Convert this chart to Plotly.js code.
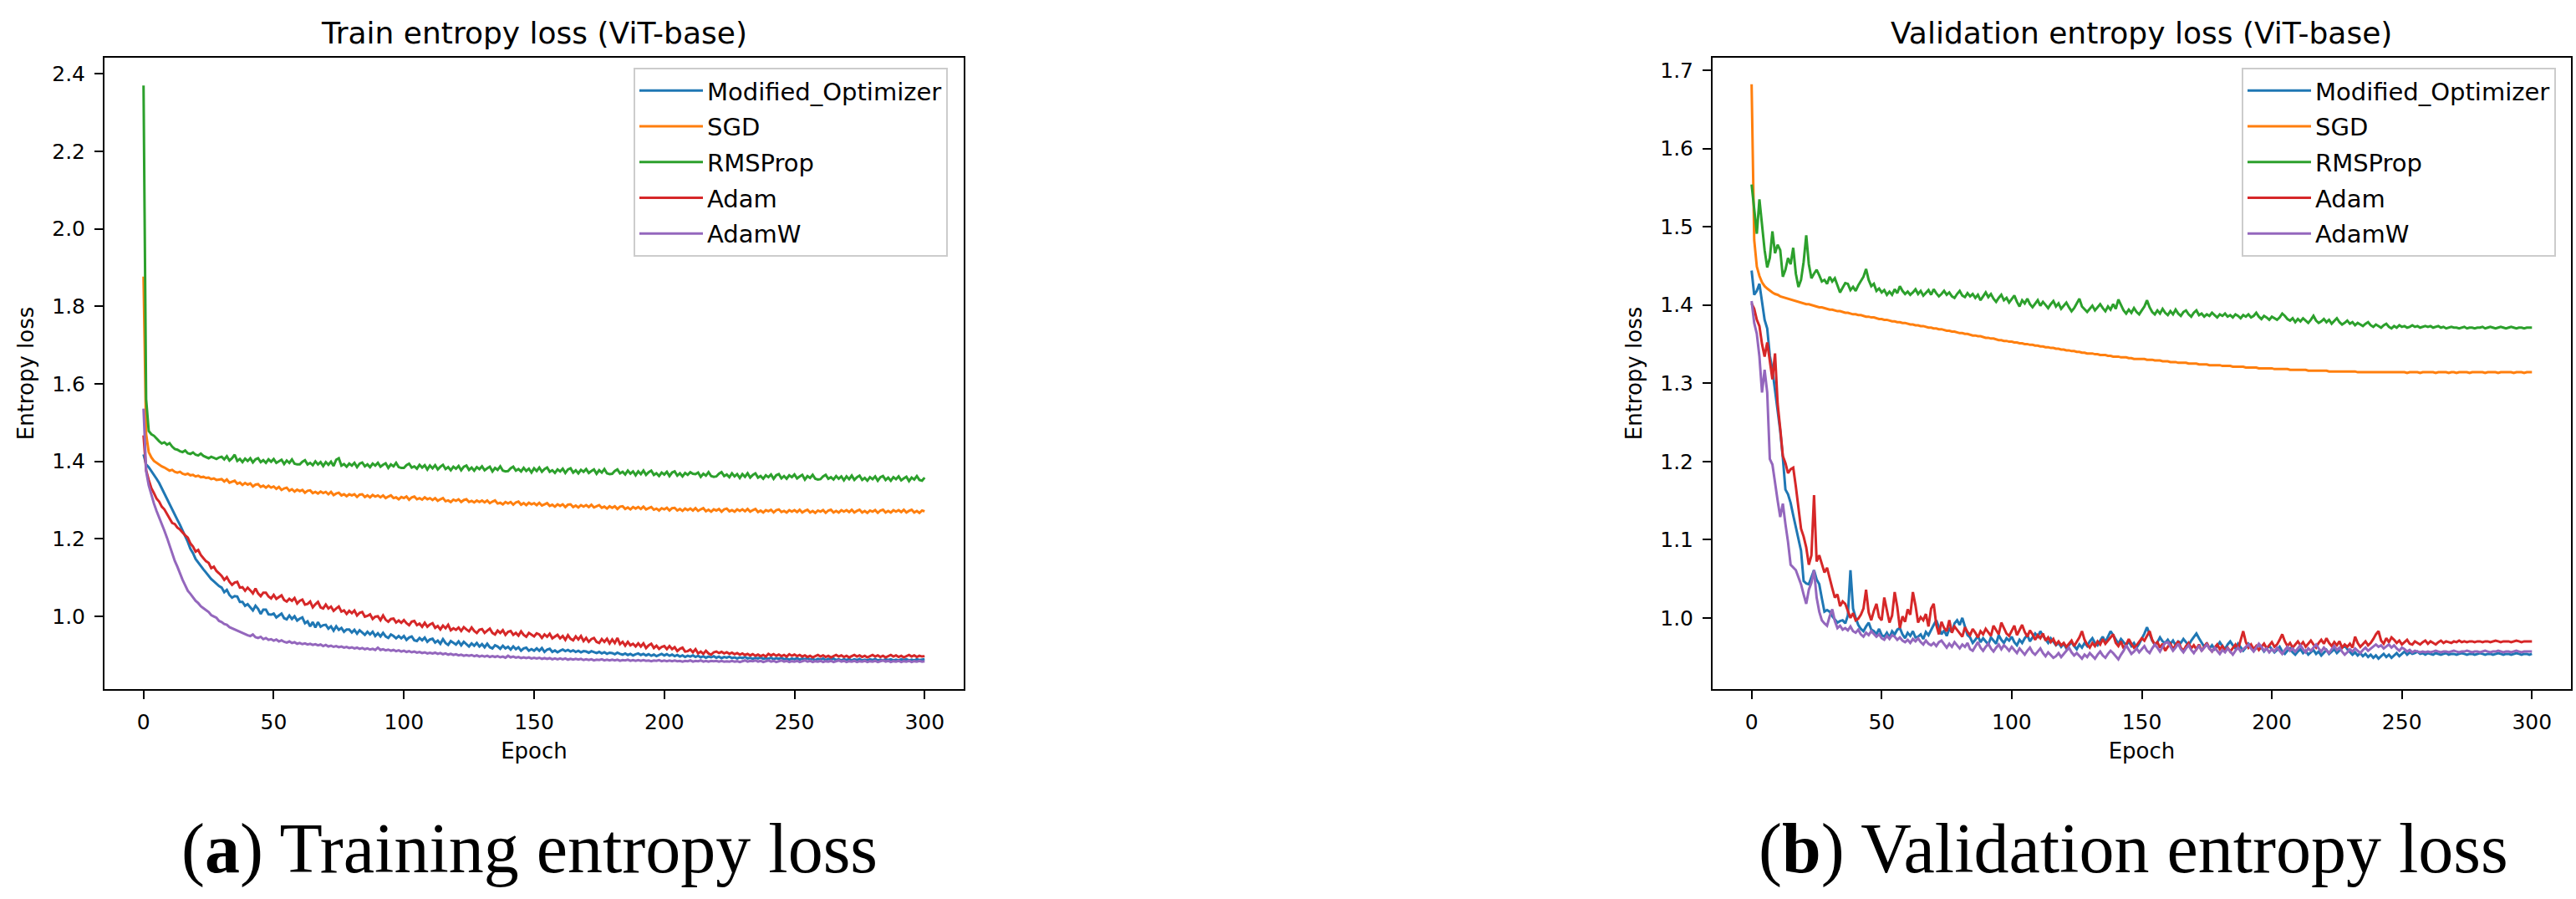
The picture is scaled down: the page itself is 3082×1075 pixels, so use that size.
<!DOCTYPE html>
<html>
<head>
<meta charset="utf-8">
<script src="https://cdn.plot.ly/plotly-3.0.1.min.js"></script>
<style>html,body{margin:0;padding:0;background:#fff;}#chart{width:3082px;height:1075px;}</style>
</head>
<body>
<div id="chart"></div>
<script>
const seriesNames = ['Modified_Optimizer', 'SGD', 'RMSProp', 'Adam', 'AdamW'];
const seriesColors = ['#1f77b4', '#ff7f0e', '#2ca02c', '#d62728', '#9467bd'];
const xTickVals = [0, 50, 100, 150, 200, 250, 300];
const trainYTicks = [1.0, 1.2, 1.4, 1.6, 1.8, 2.0, 2.2, 2.4];
const valYTicks = [1.0, 1.1, 1.2, 1.3, 1.4, 1.5, 1.6, 1.7];

// ---------- Train entropy loss (epochs 0..300) ----------
const trainModified = [
1.418,1.392,1.385,1.374,1.366,1.355,1.344,1.330,1.318,1.305,
1.288,1.276,1.262,1.249,1.236,1.222,1.205,1.192,1.174,1.163,
1.148,1.139,1.128,1.121,1.113,1.104,1.096,1.090,1.083,1.078,
1.074,1.062,1.068,1.055,1.048,1.052,1.051,1.037,1.037,1.027,
1.031,1.023,1.015,1.027,1.019,1.006,1.017,1.017,1.005,1.004,
1.007,0.997,1.003,1.007,0.995,0.992,1.002,0.993,1.000,0.989,
0.994,0.997,0.982,0.987,0.974,0.985,0.971,0.985,0.973,0.977,
0.978,0.968,0.974,0.963,0.974,0.965,0.970,0.960,0.966,0.966,
0.958,0.965,0.955,0.964,0.958,0.952,0.960,0.953,0.960,0.949,
0.956,0.948,0.957,0.948,0.944,0.953,0.949,0.943,0.949,0.943,
0.949,0.939,0.945,0.948,0.938,0.936,0.944,0.938,0.945,0.934,
0.940,0.942,0.932,0.937,0.929,0.941,0.931,0.926,0.936,0.932,
0.927,0.935,0.925,0.934,0.929,0.922,0.930,0.924,0.931,0.922,
0.928,0.920,0.929,0.920,0.917,0.925,0.922,0.916,0.924,0.917,
0.921,0.914,0.922,0.915,0.920,0.911,0.917,0.919,0.911,0.915,
0.911,0.917,0.911,0.918,0.908,0.914,0.916,0.908,0.912,0.907,
0.911,0.914,0.910,0.913,0.909,0.912,0.908,0.911,0.907,0.910,
0.909,0.906,0.910,0.907,0.905,0.908,0.904,0.907,0.903,0.906,
0.905,0.902,0.906,0.903,0.901,0.904,0.900,0.903,0.899,0.902,
0.904,0.900,0.903,0.899,0.902,0.898,0.901,0.897,0.900,0.903,
0.899,0.902,0.898,0.901,0.897,0.900,0.896,0.899,0.895,0.898,
0.896,0.899,0.895,0.898,0.894,0.897,0.893,0.896,0.894,0.897,
0.893,0.896,0.892,0.895,0.893,0.896,0.892,0.894,0.891,0.894,
0.892,0.895,0.891,0.893,0.890,0.893,0.891,0.894,0.890,0.892,
0.890,0.893,0.889,0.892,0.890,0.893,0.889,0.891,0.888,0.891,
0.889,0.892,0.888,0.891,0.889,0.892,0.888,0.890,0.887,0.890,
0.888,0.891,0.887,0.890,0.888,0.891,0.887,0.889,0.886,0.889,
0.887,0.890,0.886,0.889,0.887,0.890,0.886,0.888,0.886,0.889,
0.887,0.890,0.886,0.888,0.886,0.889,0.887,0.889,0.886,0.888,
0.886,0.889,0.887,0.889,0.886,0.888,0.886,0.889,0.887,0.888,
0.889];
const trainSGD = [
1.877,1.470,1.424,1.410,1.401,1.396,1.392,1.387,1.384,1.380,
1.376,1.378,1.373,1.371,1.373,1.368,1.366,1.368,1.364,1.365,
1.361,1.363,1.359,1.360,1.357,1.358,1.354,1.356,1.352,1.353,
1.354,1.348,1.353,1.345,1.348,1.350,1.342,1.345,1.339,1.344,
1.340,1.343,1.335,1.340,1.341,1.334,1.337,1.332,1.337,1.332,
1.335,1.329,1.334,1.326,1.330,1.332,1.324,1.328,1.322,1.327,
1.323,1.326,1.319,1.324,1.325,1.318,1.321,1.317,1.322,1.318,
1.321,1.315,1.321,1.313,1.317,1.319,1.312,1.315,1.310,1.315,
1.312,1.315,1.308,1.314,1.315,1.308,1.312,1.307,1.313,1.309,
1.312,1.307,1.312,1.305,1.309,1.312,1.305,1.307,1.302,1.308,
1.305,1.309,1.301,1.307,1.309,1.302,1.305,1.301,1.307,1.302,
1.305,1.300,1.305,1.298,1.302,1.305,1.297,1.299,1.295,1.301,
1.298,1.302,1.295,1.300,1.302,1.295,1.298,1.294,1.299,1.295,
1.299,1.294,1.299,1.292,1.296,1.299,1.291,1.293,1.289,1.295,
1.291,1.295,1.288,1.294,1.296,1.288,1.292,1.287,1.293,1.289,
1.292,1.287,1.293,1.286,1.289,1.292,1.285,1.288,1.283,1.289,
1.285,1.289,1.282,1.288,1.289,1.282,1.286,1.281,1.287,1.283,
1.287,1.282,1.288,1.281,1.284,1.287,1.280,1.283,1.278,1.284,
1.280,1.284,1.277,1.283,1.284,1.277,1.281,1.276,1.282,1.278,
1.282,1.277,1.283,1.276,1.279,1.282,1.275,1.278,1.273,1.279,
1.276,1.280,1.273,1.279,1.280,1.273,1.277,1.272,1.278,1.274,
1.278,1.273,1.279,1.272,1.276,1.279,1.271,1.275,1.270,1.276,
1.273,1.277,1.270,1.276,1.278,1.271,1.274,1.270,1.276,1.272,
1.276,1.271,1.277,1.270,1.274,1.277,1.269,1.273,1.268,1.274,
1.271,1.275,1.268,1.274,1.276,1.269,1.272,1.268,1.274,1.270,
1.274,1.269,1.275,1.268,1.272,1.275,1.268,1.272,1.267,1.273,
1.270,1.274,1.267,1.273,1.275,1.268,1.272,1.268,1.274,1.270,
1.274,1.269,1.275,1.268,1.272,1.275,1.268,1.272,1.267,1.273,
1.270,1.274,1.267,1.273,1.275,1.268,1.272,1.268,1.274,1.270,
1.274,1.269,1.275,1.268,1.272,1.275,1.268,1.272,1.267,1.273,
1.271];
const trainRMSProp = [
2.370,1.560,1.478,1.470,1.466,1.458,1.452,1.446,1.449,1.443,
1.447,1.438,1.432,1.430,1.426,1.424,1.428,1.421,1.419,1.423,
1.417,1.415,1.420,1.414,1.411,1.408,1.412,1.409,1.406,1.410,
1.412,1.405,1.413,1.402,1.408,1.417,1.401,1.406,1.398,1.407,
1.401,1.408,1.397,1.405,1.408,1.398,1.403,1.396,1.405,1.399,
1.406,1.396,1.401,1.404,1.393,1.402,1.396,1.405,1.394,1.392,
1.392,1.399,1.403,1.392,1.396,1.390,1.400,1.392,1.398,1.388,
1.398,1.391,1.399,1.388,1.404,1.408,1.389,1.393,1.386,1.394,
1.389,1.396,1.385,1.394,1.397,1.387,1.392,1.385,1.394,1.389,
1.396,1.386,1.391,1.395,1.383,1.392,1.387,1.396,1.385,1.383,
1.383,1.390,1.394,1.384,1.387,1.381,1.391,1.384,1.390,1.379,
1.389,1.382,1.390,1.379,1.386,1.391,1.380,1.385,1.377,1.386,
1.381,1.388,1.377,1.386,1.389,1.378,1.384,1.376,1.385,1.380,
1.387,1.377,1.382,1.386,1.374,1.383,1.378,1.387,1.376,1.374,
1.375,1.382,1.386,1.376,1.380,1.374,1.383,1.375,1.381,1.371,
1.382,1.375,1.384,1.373,1.380,1.384,1.373,1.377,1.370,1.379,
1.374,1.381,1.370,1.379,1.382,1.371,1.377,1.369,1.378,1.373,
1.380,1.370,1.375,1.379,1.368,1.377,1.371,1.380,1.369,1.367,
1.368,1.375,1.379,1.369,1.373,1.366,1.376,1.368,1.374,1.364,
1.374,1.367,1.376,1.365,1.372,1.376,1.365,1.369,1.362,1.371,
1.366,1.373,1.362,1.371,1.374,1.363,1.369,1.361,1.370,1.365,
1.372,1.368,1.367,1.371,1.360,1.368,1.363,1.372,1.362,1.360,
1.361,1.368,1.372,1.362,1.366,1.359,1.369,1.361,1.367,1.357,
1.367,1.360,1.369,1.358,1.365,1.369,1.358,1.362,1.355,1.364,
1.359,1.366,1.355,1.364,1.367,1.356,1.362,1.355,1.364,1.359,
1.366,1.356,1.361,1.365,1.353,1.362,1.357,1.365,1.355,1.353,
1.354,1.361,1.365,1.355,1.359,1.353,1.362,1.355,1.361,1.351,
1.361,1.354,1.363,1.352,1.359,1.363,1.352,1.357,1.350,1.359,
1.354,1.361,1.350,1.359,1.362,1.352,1.358,1.350,1.359,1.354,
1.361,1.351,1.356,1.360,1.349,1.358,1.353,1.362,1.352,1.350,
1.358];
const trainAdam = [
1.467,1.377,1.352,1.331,1.318,1.304,1.296,1.283,1.276,1.264,
1.255,1.241,1.238,1.229,1.224,1.216,1.209,1.203,1.188,1.180,
1.167,1.171,1.158,1.150,1.142,1.138,1.124,1.128,1.117,1.111,
1.104,1.094,1.101,1.089,1.081,1.087,1.089,1.074,1.075,1.066,
1.074,1.067,1.059,1.072,1.059,1.052,1.061,1.061,1.051,1.046,
1.055,1.045,1.050,1.054,1.042,1.038,1.045,1.040,1.047,1.033,
1.040,1.043,1.030,1.032,1.038,1.023,1.031,1.037,1.023,1.020,
1.030,1.020,1.025,1.014,1.020,1.025,1.012,1.015,1.006,1.014,
1.008,1.015,1.002,1.009,1.011,0.999,1.001,1.005,0.993,0.999,
1.000,0.990,1.002,0.991,0.986,0.993,0.994,0.984,0.989,0.983,
0.990,0.982,0.977,0.986,0.988,0.977,0.981,0.973,0.983,0.973,
0.979,0.982,0.970,0.975,0.966,0.976,0.969,0.978,0.964,0.969,
0.965,0.971,0.962,0.972,0.966,0.961,0.971,0.962,0.957,0.965,
0.967,0.957,0.963,0.968,0.957,0.953,0.963,0.957,0.964,0.952,
0.960,0.962,0.952,0.957,0.950,0.961,0.952,0.947,0.957,0.953,
0.948,0.956,0.953,0.944,0.953,0.947,0.955,0.943,0.948,0.952,
0.943,0.949,0.939,0.951,0.942,0.938,0.948,0.940,0.949,0.936,
0.944,0.934,0.941,0.944,0.934,0.931,0.941,0.934,0.942,0.930,
0.940,0.931,0.944,0.928,0.934,0.924,0.934,0.925,0.929,0.922,
0.930,0.922,0.930,0.918,0.925,0.929,0.918,0.924,0.916,0.921,
0.923,0.915,0.923,0.915,0.920,0.910,0.916,0.919,0.909,0.910,
0.914,0.907,0.915,0.904,0.909,0.903,0.911,0.904,0.901,0.907,
0.909,0.905,0.908,0.904,0.907,0.903,0.906,0.902,0.905,0.901,
0.904,0.900,0.903,0.899,0.902,0.898,0.901,0.897,0.900,0.896,
0.903,0.899,0.902,0.898,0.901,0.897,0.900,0.896,0.902,0.898,
0.901,0.897,0.900,0.896,0.899,0.895,0.898,0.894,0.897,0.900,
0.896,0.899,0.895,0.898,0.894,0.897,0.900,0.896,0.899,0.895,
0.898,0.894,0.897,0.900,0.896,0.899,0.895,0.898,0.894,0.897,
0.900,0.896,0.899,0.895,0.898,0.894,0.897,0.900,0.896,0.899,
0.895,0.898,0.894,0.897,0.900,0.896,0.899,0.895,0.898,0.896,
0.897];
const trainAdamW = [
1.536,1.374,1.338,1.312,1.291,1.272,1.256,1.240,1.221,1.203,
1.183,1.162,1.143,1.128,1.110,1.094,1.080,1.066,1.058,1.049,
1.040,1.034,1.026,1.021,1.016,1.011,1.003,0.999,0.996,0.988,
0.985,0.980,0.978,0.972,0.969,0.966,0.963,0.959,0.957,0.954,
0.951,0.949,0.953,0.946,0.944,0.947,0.941,0.944,0.939,0.941,
0.937,0.940,0.935,0.938,0.934,0.932,0.935,0.931,0.933,0.929,
0.931,0.928,0.930,0.927,0.929,0.926,0.928,0.925,0.927,0.923,
0.926,0.922,0.924,0.921,0.923,0.920,0.922,0.919,0.921,0.918,
0.920,0.917,0.919,0.916,0.918,0.915,0.917,0.914,0.916,0.913,
0.919,0.913,0.915,0.912,0.914,0.911,0.913,0.910,0.912,0.909,
0.911,0.908,0.910,0.907,0.909,0.906,0.908,0.905,0.907,0.904,
0.906,0.904,0.906,0.903,0.905,0.902,0.904,0.901,0.903,0.900,
0.902,0.899,0.901,0.898,0.900,0.898,0.900,0.897,0.899,0.896,
0.898,0.896,0.898,0.895,0.897,0.895,0.897,0.894,0.896,0.893,
0.898,0.894,0.896,0.893,0.895,0.892,0.894,0.892,0.894,0.891,
0.893,0.891,0.893,0.890,0.892,0.890,0.892,0.889,0.891,0.889,
0.891,0.889,0.891,0.888,0.890,0.888,0.890,0.888,0.890,0.887,
0.889,0.887,0.889,0.886,0.888,0.887,0.889,0.886,0.888,0.886,
0.888,0.886,0.888,0.885,0.887,0.886,0.888,0.885,0.887,0.885,
0.887,0.885,0.887,0.885,0.886,0.884,0.886,0.885,0.887,0.884,
0.886,0.884,0.886,0.884,0.886,0.884,0.885,0.883,0.885,0.884,
0.886,0.883,0.885,0.884,0.886,0.883,0.885,0.883,0.885,0.884,
0.885,0.883,0.885,0.883,0.884,0.883,0.885,0.883,0.884,0.882,
0.884,0.886,0.883,0.885,0.884,0.886,0.883,0.885,0.882,0.884,
0.886,0.883,0.885,0.882,0.884,0.886,0.883,0.885,0.882,0.884,
0.883,0.885,0.882,0.884,0.886,0.883,0.885,0.882,0.884,0.883,
0.885,0.882,0.884,0.883,0.885,0.882,0.884,0.886,0.883,0.885,
0.882,0.884,0.883,0.885,0.882,0.884,0.883,0.885,0.882,0.884,
0.883,0.885,0.882,0.884,0.886,0.883,0.885,0.882,0.884,0.883,
0.885,0.882,0.884,0.883,0.885,0.882,0.884,0.883,0.885,0.883,
0.884];

// ---------- Validation entropy loss (epochs 0..300) ----------
const valModified = [
1.444,1.413,1.418,1.427,1.404,1.381,1.370,1.335,1.317,1.290,
1.262,1.239,1.205,1.164,1.158,1.147,1.131,1.115,1.102,1.086,
1.047,1.044,1.043,1.052,1.061,1.049,1.043,1.025,1.008,1.010,
1.008,1.002,0.998,0.994,0.996,0.997,0.993,1.003,1.061,1.012,
1.000,0.991,0.986,0.983,0.989,0.994,0.985,0.983,0.979,0.986,
0.978,0.976,0.981,0.975,0.983,0.979,0.985,0.987,0.979,0.974,
0.981,0.977,0.983,0.975,0.976,0.979,0.973,0.982,0.978,0.985,
0.991,0.997,0.988,0.979,0.984,0.977,0.986,0.982,0.993,0.997,
0.991,1.000,0.989,0.978,0.975,0.968,0.972,0.977,0.969,0.974,
0.970,0.966,0.975,0.971,0.967,0.978,0.972,0.968,0.974,0.971,
0.976,0.969,0.965,0.972,0.968,0.974,0.978,0.970,0.975,0.980,
0.976,0.983,0.977,0.972,0.968,0.974,0.970,0.965,0.968,0.963,
0.967,0.961,0.965,0.969,0.964,0.960,0.966,0.962,0.968,0.964,
0.970,0.974,0.968,0.965,0.971,0.976,0.969,0.977,0.983,0.978,
0.972,0.967,0.973,0.969,0.965,0.970,0.964,0.968,0.962,0.967,
0.973,0.980,0.988,0.979,0.971,0.966,0.969,0.975,0.970,0.968,
0.972,0.967,0.971,0.965,0.970,0.968,0.973,0.969,0.965,0.971,
0.976,0.980,0.974,0.968,0.963,0.967,0.961,0.965,0.960,0.964,
0.969,0.964,0.960,0.966,0.970,0.965,0.961,0.967,0.963,0.958,
0.962,0.967,0.963,0.958,0.961,0.966,0.962,0.957,0.961,0.964,
0.960,0.956,0.959,0.963,0.957,0.954,0.958,0.961,0.956,0.953,
0.957,0.960,0.955,0.958,0.953,0.956,0.959,0.954,0.957,0.952,
0.956,0.959,0.954,0.957,0.960,0.955,0.958,0.962,0.965,0.960,
0.957,0.953,0.956,0.952,0.955,0.951,0.954,0.950,0.953,0.949,
0.952,0.948,0.951,0.954,0.950,0.953,0.949,0.952,0.955,0.951,
0.954,0.957,0.953,0.956,0.954,0.955,0.957,0.954,0.955,0.953,
0.955,0.954,0.953,0.955,0.954,0.953,0.954,0.955,0.953,0.954,
0.954,0.953,0.954,0.955,0.954,0.953,0.954,0.954,0.953,0.954,
0.955,0.954,0.953,0.954,0.954,0.953,0.954,0.955,0.954,0.953,
0.954,0.954,0.953,0.954,0.955,0.954,0.953,0.954,0.954,0.953,
0.954];
const valSGD = [
1.682,1.483,1.449,1.437,1.429,1.424,1.421,1.418,1.416,1.414,
1.413,1.411,1.410,1.409,1.408,1.407,1.406,1.405,1.404,1.403,
1.402,1.401,1.401,1.400,1.399,1.398,1.397,1.397,1.396,1.395,
1.394,1.394,1.393,1.392,1.392,1.391,1.390,1.390,1.389,1.388,
1.388,1.387,1.387,1.386,1.385,1.385,1.384,1.384,1.383,1.382,
1.382,1.381,1.381,1.380,1.379,1.379,1.378,1.378,1.377,1.377,
1.376,1.375,1.375,1.374,1.374,1.373,1.373,1.372,1.371,1.371,
1.370,1.370,1.369,1.369,1.368,1.367,1.367,1.366,1.366,1.365,
1.364,1.364,1.363,1.363,1.362,1.361,1.361,1.360,1.360,1.359,
1.358,1.358,1.357,1.357,1.356,1.355,1.355,1.354,1.354,1.353,
1.353,1.352,1.352,1.351,1.351,1.350,1.350,1.349,1.349,1.348,
1.348,1.347,1.347,1.346,1.346,1.345,1.345,1.344,1.344,1.343,
1.343,1.342,1.342,1.341,1.341,1.340,1.340,1.339,1.339,1.338,
1.338,1.338,1.337,1.337,1.336,1.336,1.336,1.335,1.335,1.334,
1.334,1.334,1.333,1.333,1.333,1.332,1.332,1.331,1.331,1.331,
1.331,1.331,1.330,1.330,1.330,1.329,1.329,1.329,1.328,1.328,
1.328,1.327,1.327,1.327,1.326,1.326,1.326,1.326,1.325,1.325,
1.325,1.325,1.324,1.324,1.324,1.324,1.323,1.323,1.323,1.323,
1.323,1.322,1.322,1.322,1.322,1.321,1.321,1.321,1.321,1.321,
1.320,1.320,1.320,1.320,1.320,1.319,1.319,1.319,1.319,1.319,
1.319,1.318,1.318,1.318,1.318,1.318,1.318,1.317,1.317,1.317,
1.317,1.317,1.317,1.317,1.316,1.316,1.316,1.316,1.316,1.316,
1.316,1.316,1.315,1.315,1.315,1.315,1.315,1.315,1.315,1.315,
1.315,1.315,1.315,1.314,1.314,1.314,1.314,1.314,1.314,1.314,
1.314,1.314,1.314,1.314,1.314,1.314,1.314,1.314,1.314,1.314,
1.314,1.314,1.313,1.314,1.314,1.314,1.314,1.313,1.314,1.314,
1.314,1.314,1.314,1.313,1.314,1.314,1.314,1.314,1.313,1.314,
1.314,1.313,1.314,1.314,1.314,1.314,1.313,1.314,1.314,1.314,
1.314,1.314,1.313,1.314,1.314,1.314,1.314,1.313,1.314,1.314,
1.314,1.314,1.314,1.313,1.314,1.314,1.314,1.313,1.314,1.314,
1.314];
const valRMSProp = [
1.554,1.520,1.491,1.535,1.502,1.470,1.448,1.460,1.494,1.466,
1.477,1.470,1.436,1.445,1.460,1.452,1.473,1.440,1.423,1.432,
1.455,1.489,1.452,1.434,1.440,1.445,1.438,1.430,1.432,1.427,
1.436,1.430,1.434,1.424,1.416,1.422,1.428,1.427,1.419,1.423,
1.418,1.425,1.431,1.436,1.446,1.432,1.424,1.427,1.418,1.421,
1.416,1.419,1.413,1.417,1.413,1.420,1.415,1.424,1.418,1.414,
1.417,1.413,1.416,1.420,1.414,1.418,1.412,1.416,1.419,1.413,
1.420,1.415,1.411,1.414,1.418,1.413,1.416,1.411,1.409,1.414,
1.418,1.412,1.410,1.415,1.411,1.414,1.409,1.413,1.406,1.411,
1.416,1.410,1.414,1.408,1.404,1.409,1.413,1.406,1.409,1.403,
1.407,1.412,1.404,1.398,1.406,1.402,1.408,1.401,1.397,1.402,
1.406,1.399,1.404,1.400,1.396,1.401,1.405,1.398,1.402,1.395,
1.399,1.403,1.397,1.392,1.396,1.402,1.408,1.398,1.394,1.391,
1.395,1.399,1.393,1.397,1.401,1.396,1.392,1.398,1.394,1.401,
1.395,1.407,1.399,1.393,1.389,1.394,1.390,1.396,1.391,1.388,
1.393,1.398,1.406,1.397,1.391,1.388,1.393,1.389,1.395,1.390,
1.387,1.392,1.388,1.394,1.389,1.386,1.391,1.393,1.388,1.385,
1.390,1.393,1.387,1.389,1.385,1.388,1.386,1.390,1.387,1.384,
1.388,1.386,1.389,1.385,1.387,1.384,1.388,1.386,1.383,1.387,
1.385,1.388,1.384,1.386,1.390,1.385,1.382,1.386,1.384,1.381,
1.385,1.383,1.381,1.384,1.389,1.386,1.382,1.380,1.383,1.378,
1.382,1.379,1.383,1.380,1.377,1.381,1.386,1.380,1.377,1.379,
1.382,1.378,1.381,1.376,1.379,1.383,1.378,1.375,1.377,1.380,
1.376,1.378,1.374,1.377,1.375,1.373,1.376,1.378,1.374,1.372,
1.375,1.373,1.371,1.374,1.376,1.372,1.370,1.373,1.371,1.374,
1.372,1.373,1.371,1.372,1.374,1.372,1.373,1.371,1.372,1.373,
1.372,1.373,1.371,1.372,1.373,1.371,1.372,1.370,1.371,1.372,
1.371,1.371,1.370,1.371,1.372,1.370,1.371,1.371,1.370,1.371,
1.371,1.372,1.370,1.371,1.372,1.371,1.370,1.371,1.372,1.371,
1.370,1.371,1.372,1.371,1.370,1.371,1.371,1.370,1.371,1.371,
1.371];
const valAdam = [
1.402,1.395,1.381,1.373,1.350,1.334,1.352,1.331,1.305,1.338,
1.274,1.242,1.207,1.198,1.185,1.190,1.192,1.168,1.140,1.114,
1.104,1.090,1.068,1.080,1.157,1.072,1.080,1.070,1.058,1.064,
1.050,1.038,1.026,1.030,1.015,1.021,1.018,1.010,1.000,1.006,
0.997,0.999,1.004,1.012,1.036,1.007,0.997,1.009,1.018,1.001,
0.997,1.026,1.008,0.994,1.003,1.033,1.014,0.987,1.002,0.995,
1.011,1.004,1.033,1.016,0.994,1.001,0.997,1.005,0.989,1.012,
1.018,0.991,0.979,0.995,0.987,0.983,0.997,0.981,0.989,0.985,
0.980,0.976,0.988,0.982,0.978,0.986,0.981,0.975,0.983,0.979,
0.986,0.981,0.977,0.990,0.984,0.979,0.994,0.987,0.980,0.977,
0.983,0.990,0.978,0.985,0.991,0.982,0.976,0.984,0.979,0.972,
0.978,0.974,0.980,0.971,0.975,0.969,0.973,0.966,0.970,0.965,
0.968,0.963,0.967,0.971,0.964,0.969,0.975,0.983,0.972,0.966,
0.962,0.968,0.964,0.970,0.966,0.973,0.967,0.971,0.975,0.979,
0.968,0.964,0.970,0.961,0.966,0.973,0.967,0.962,0.965,0.969,
0.974,0.971,0.977,0.983,0.972,0.966,0.969,0.962,0.967,0.958,
0.963,0.967,0.960,0.965,0.970,0.962,0.958,0.964,0.968,0.961,
0.965,0.960,0.966,0.958,0.963,0.968,0.961,0.957,0.962,0.966,
0.960,0.964,0.958,0.962,0.957,0.961,0.966,0.960,0.972,0.983,
0.969,0.962,0.966,0.960,0.964,0.959,0.963,0.967,0.961,0.965,
0.969,0.963,0.966,0.972,0.979,0.970,0.964,0.968,0.962,0.966,
0.970,0.965,0.969,0.963,0.967,0.971,0.966,0.962,0.968,0.972,
0.967,0.974,0.968,0.964,0.969,0.965,0.970,0.962,0.966,0.963,
0.967,0.962,0.976,0.968,0.963,0.966,0.970,0.965,0.968,0.973,
0.979,0.983,0.971,0.967,0.974,0.969,0.975,0.972,0.968,0.971,
0.966,0.969,0.972,0.967,0.966,0.970,0.968,0.966,0.969,0.971,
0.967,0.970,0.968,0.966,0.969,0.971,0.968,0.970,0.969,0.968,
0.970,0.969,0.971,0.969,0.970,0.969,0.970,0.970,0.969,0.970,
0.970,0.969,0.970,0.970,0.969,0.970,0.971,0.970,0.969,0.970,
0.970,0.970,0.969,0.970,0.971,0.970,0.969,0.970,0.970,0.970,
0.970];
const valAdamW = [
1.405,1.377,1.363,1.334,1.288,1.317,1.288,1.203,1.196,1.170,
1.150,1.129,1.146,1.120,1.097,1.068,1.064,1.061,1.052,1.043,
1.030,1.018,1.036,1.045,1.061,1.026,1.008,0.997,0.993,0.990,
1.002,1.011,0.996,0.987,0.990,0.985,0.987,0.984,0.989,0.983,
0.981,0.985,0.979,0.976,0.981,0.978,0.983,0.980,0.976,0.979,
0.974,0.972,0.977,0.973,0.978,0.976,0.972,0.975,0.971,0.969,
0.972,0.968,0.973,0.970,0.974,0.969,0.966,0.971,0.967,0.965,
0.968,0.964,0.969,0.971,0.966,0.962,0.967,0.963,0.969,0.965,
0.961,0.966,0.963,0.968,0.960,0.958,0.964,0.969,0.962,0.958,
0.963,0.967,0.961,0.957,0.962,0.966,0.960,0.965,0.962,0.958,
0.963,0.959,0.955,0.961,0.957,0.953,0.958,0.962,0.956,0.953,
0.957,0.961,0.955,0.951,0.956,0.952,0.949,0.951,0.955,0.950,
0.954,0.958,0.962,0.956,0.952,0.955,0.951,0.948,0.953,0.950,
0.955,0.951,0.948,0.953,0.957,0.952,0.949,0.954,0.958,0.955,
0.951,0.947,0.953,0.958,0.965,0.959,0.954,0.957,0.961,0.956,
0.960,0.964,0.958,0.955,0.961,0.966,0.962,0.957,0.963,0.968,
0.969,0.963,0.958,0.962,0.967,0.960,0.956,0.961,0.965,0.959,
0.955,0.960,0.964,0.958,0.962,0.966,0.961,0.957,0.962,0.958,
0.954,0.959,0.956,0.961,0.957,0.953,0.958,0.962,0.957,0.960,
0.964,0.966,0.961,0.957,0.962,0.967,0.963,0.958,0.961,0.956,
0.960,0.957,0.962,0.958,0.954,0.959,0.963,0.958,0.961,0.957,
0.961,0.965,0.960,0.956,0.961,0.958,0.962,0.966,0.961,0.957,
0.962,0.958,0.955,0.960,0.964,0.959,0.962,0.957,0.953,0.956,
0.960,0.957,0.961,0.958,0.955,0.959,0.962,0.958,0.961,0.964,
0.966,0.963,0.965,0.961,0.964,0.966,0.962,0.965,0.961,0.958,
0.962,0.960,0.957,0.959,0.956,0.958,0.957,0.956,0.957,0.956,
0.957,0.956,0.957,0.958,0.957,0.956,0.957,0.957,0.956,0.957,
0.958,0.957,0.956,0.957,0.957,0.958,0.957,0.956,0.957,0.957,
0.956,0.957,0.958,0.957,0.956,0.957,0.957,0.958,0.957,0.956,
0.957,0.957,0.956,0.957,0.958,0.957,0.956,0.957,0.957,0.957,
0.957];

const trainSeries = [trainModified, trainSGD, trainRMSProp, trainAdam, trainAdamW];
const valSeries = [valModified, valSGD, valRMSProp, valAdam, valAdamW];

const FONT = 'DejaVu Sans, sans-serif';
const traces = [];
function addTraces(seriesList, xa, ya, legendId, side) {
  seriesList.forEach((vals, i) => {
    traces.push({
      type: 'scatter', mode: 'lines',
      x: vals.map((_, k) => k), y: vals,
      name: seriesNames[i],
      xaxis: xa, yaxis: ya, legend: legendId,
      legendgroup: side + i,
      line: {color: seriesColors[i], width: 3},
      hoverinfo: 'skip'
    });
  });
}
addTraces(trainSeries, 'x', 'y', 'legend', 'a');
addTraces(valSeries, 'x2', 'y2', 'legend2', 'b');

const axisBase = {
  showline: true, mirror: true, linecolor: '#000', linewidth: 2,
  ticks: 'outside', ticklen: 10, tickwidth: 2, tickcolor: '#000',
  showgrid: false, zeroline: false,
  tickfont: {family: FONT, size: 25, color: '#000'}
};
const yDomain = [1 - 824 / 1075, 1 - 69 / 1075];
const legendBase = {
  bgcolor: 'rgba(255,255,255,0.8)', bordercolor: '#cccccc', borderwidth: 2,
  font: {family: FONT, size: 29, color: '#000'},
  xanchor: 'left', yanchor: 'top', tracegroupgap: 2, itemwidth: 76
};

const layout = {
  width: 3082, height: 1075,
  margin: {l: 0, r: 0, t: 0, b: 0},
  paper_bgcolor: '#fff', plot_bgcolor: '#fff',
  showlegend: true,
  xaxis: Object.assign({}, axisBase, {
    domain: [125 / 3082, 1153 / 3082], range: [-15, 315], anchor: 'y',
    tickvals: xTickVals, ticklabelstandoff: 6,
    title: {text: 'Epoch', font: {family: FONT, size: 26, color: '#000'}, standoff: 12}
  }),
  yaxis: Object.assign({}, axisBase, {
    domain: yDomain, range: [0.812, 2.442], anchor: 'x',
    tickvals: trainYTicks, tickformat: '.1f', ticklabelstandoff: 6,
    title: {text: 'Entropy loss', font: {family: FONT, size: 26, color: '#000'}, standoff: 14}
  }),
  xaxis2: Object.assign({}, axisBase, {
    domain: [2049 / 3082, 3076 / 3082], range: [-15, 315], anchor: 'y2',
    tickvals: xTickVals, ticklabelstandoff: 6,
    title: {text: 'Epoch', font: {family: FONT, size: 26, color: '#000'}, standoff: 12}
  }),
  yaxis2: Object.assign({}, axisBase, {
    domain: yDomain, range: [0.909, 1.716], anchor: 'x2',
    tickvals: valYTicks, tickformat: '.1f', ticklabelstandoff: 6,
    title: {text: 'Entropy loss', font: {family: FONT, size: 26, color: '#000'}, standoff: 14}
  }),
  legend: Object.assign({}, legendBase, {x: 758 / 3082, y: 1 - 81 / 1075}),
  legend2: Object.assign({}, legendBase, {x: 2682 / 3082, y: 1 - 81 / 1075}),
  annotations: [
    {text: 'Train entropy loss (ViT-base)', xref: 'paper', yref: 'paper',
     x: 639 / 3082, y: 1 - 39 / 1075, xanchor: 'center', yanchor: 'middle', showarrow: false,
     font: {family: FONT, size: 36, color: '#000'}},
    {text: 'Validation entropy loss (ViT-base)', xref: 'paper', yref: 'paper',
     x: 2562 / 3082, y: 1 - 39 / 1075, xanchor: 'center', yanchor: 'middle', showarrow: false,
     font: {family: FONT, size: 36, color: '#000'}},
    {text: '(<b>a</b>) Training entropy loss', xref: 'paper', yref: 'paper',
     x: 215 / 3082, y: 1 - 1015 / 1075, xanchor: 'left', yanchor: 'middle', showarrow: false,
     font: {family: 'Liberation Serif, serif', size: 84, color: '#000'}},
    {text: '(<b>b</b>) Validation entropy loss', xref: 'paper', yref: 'paper',
     x: 2102 / 3082, y: 1 - 1015 / 1075, xanchor: 'left', yanchor: 'middle', showarrow: false,
     font: {family: 'Liberation Serif, serif', size: 84, color: '#000'}}
  ]
};

const allSeries = trainSeries.concat(valSeries);
const bad = allSeries.map(s => s.length).filter(n => n !== 301);
if (bad.length) {
  layout.annotations.push({text: 'LEN ' + allSeries.map(s => s.length).join(','), xref: 'paper', yref: 'paper',
    x: 0.5, y: 0.5, showarrow: false, font: {size: 30, color: 'red'}});
}

Plotly.newPlot('chart', traces, layout, {displayModeBar: false, staticPlot: true});
</script>
</body>
</html>
